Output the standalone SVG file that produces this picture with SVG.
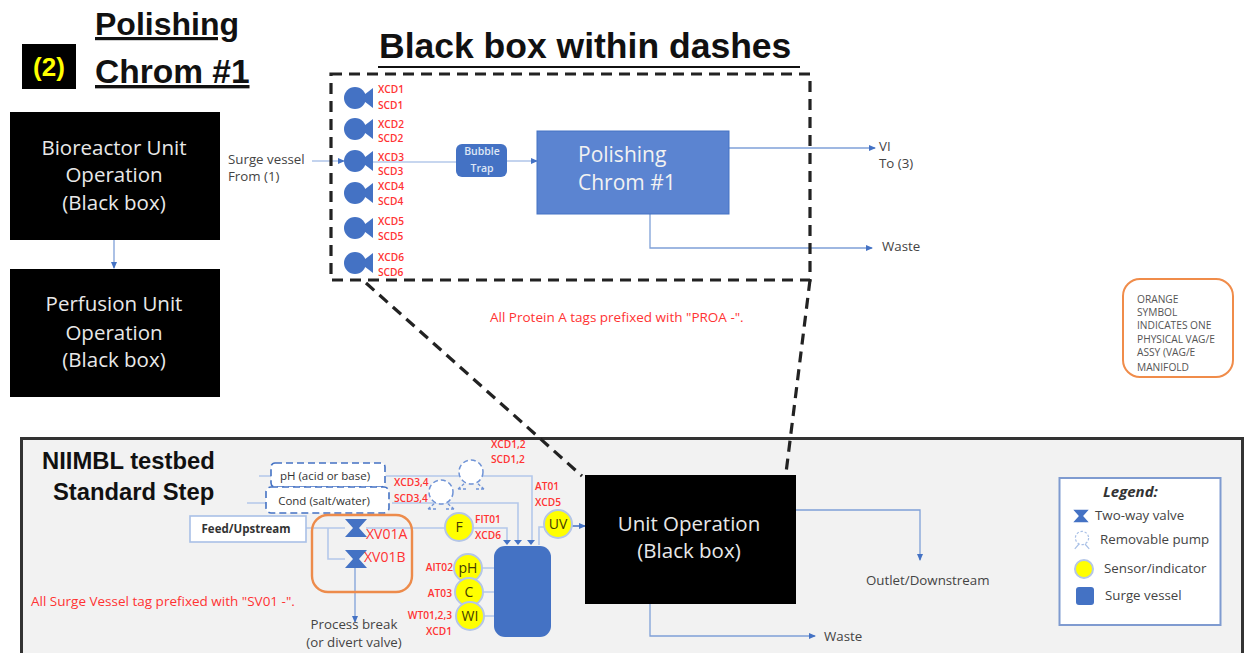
<svg xmlns="http://www.w3.org/2000/svg" width="1244" height="653" viewBox="0 0 1244 653">
<defs>
<marker id="a" markerWidth="8" markerHeight="8" refX="6" refY="3" orient="auto" markerUnits="userSpaceOnUse"><path d="M0 0L7 3L0 6z" fill="#4472c4"/></marker>
<g id="pump"><circle cx="-5" cy="0" r="11" fill="#4472c4"/><path d="M0 0L13 -10V10z" fill="#4472c4"/></g>
<g id="valve"><path d="M-11 -9H11L3 0L11 9H-11L-3 0z" fill="#4472c4"/></g>
<g id="rpump"><circle cx="0" cy="0" r="12" fill="#fff" stroke="#6f93d6" stroke-width="1.500" stroke-dasharray="5 3"/><path d="M-13 17L-6 11M-13 17H-4M13 17L6 11M13 17H4" fill="none" stroke="#6f93d6" stroke-width="1.300" stroke-dasharray="3 2"/></g>
<path id="tip" d="M-4 0H4L0 5z" fill="#4472c4"/>
</defs>
<style>
text{font-family:"Open Sans","Liberation Sans",sans-serif;fill:#333}
.w{fill:#e8e8e8;text-anchor:middle;font-size:20.500px}
.r{fill:#f33;font-size:10.200px;font-weight:600}
.re{fill:#f33;font-size:10.200px;font-weight:600;text-anchor:end}
.c{fill:none;stroke:#b4c8ea;stroke-width:1.600}
.d{fill:none;stroke:#7fa0d8;stroke-width:1.300}
.s{fill:#ff0;stroke:#b4c6e7;stroke-width:2}
.t{font-size:13.300px;fill:#444}
.dash{fill:none;stroke:#222;stroke-width:3.200;stroke-dasharray:11 7}
.h{font-family:"Liberation Sans",sans-serif;font-weight:700;fill:#111}
.m{text-anchor:middle;font-size:14px;fill:#443c00}
.red{fill:#f33;font-size:13.500px;font-weight:500}
</style>
<rect width="1244" height="653" fill="#fff"/>
<g id="title"><text class="h" x="95" y="35" font-size="32" text-decoration="underline">Polishing</text><text class="h" x="95" y="83" font-size="33.500" text-decoration="underline">Chrom #1</text><text class="h" x="379" y="58" font-size="35.500">Black box within dashes</text><path d="M378 67H800" stroke="#111" stroke-width="2"/></g>
<g id="tag2"><rect x="22" y="44" width="54" height="45" fill="#000"/><text x="49" y="76" text-anchor="middle" font-size="26" font-weight="700" style="fill:#ff0;font-family:'Liberation Sans',sans-serif">(2)</text></g>
<g id="standard-panel"><rect x="21.500" y="438.500" width="1221" height="230" fill="#f2f2f2" stroke="#333" stroke-width="3"/></g>
<g id="connectors">
<path class="c" d="M312 161H344" marker-end="url(#a)"/><path class="c" d="M370 162H456"/><path class="c" d="M507 161H537" marker-end="url(#a)"/>
<path class="d" d="M729 148H875" marker-end="url(#a)"/><path class="d" d="M650 214V248H872" marker-end="url(#a)"/>
<path class="d" d="M114 240V268" marker-end="url(#a)"/>
<path class="d" d="M796 510H920V560" marker-end="url(#a)"/><path class="d" d="M650 604V636H815" marker-end="url(#a)"/>
<path class="c" d="M259 476H272M247 503H266M386 476H532V541"/><path class="c" d="M392 503H518V541"/>
<path class="c" d="M305 528H345M366 528H507V541"/><path class="c" d="M328 528V559H345"/>
<path class="d" d="M355 568V622" marker-end="url(#a)"/>
<path class="c" d="M539 545V527H545"/>
<path class="c" d="M482 568H494M483 592H494M484 616H494"/>
<use href="#tip" x="507" y="540"/><use href="#tip" x="518" y="540"/><use href="#tip" x="531" y="540"/>
<path d="M572 526H585" stroke="#4472c4" stroke-width="1.500" marker-end="url(#a)"/>
<path class="dash" d="M366 283L582 476M810 280L786 473"/>
</g>
<g id="dash-box"><path class="dash" d="M331 74H810V280H331z"/></g>
<g id="pumps"><use href="#pump" x="360" y="98"/><use href="#pump" x="360" y="129"/><use href="#pump" x="360" y="161"/><use href="#pump" x="360" y="193"/><use href="#pump" x="360" y="228"/><use href="#pump" x="360" y="263"/>
<text class="r" x="378" y="93">XCD1</text><text class="r" x="378" y="109">SCD1</text><text class="r" x="378" y="128">XCD2</text><text class="r" x="378" y="142">SCD2</text><text class="r" x="378" y="161">XCD3</text><text class="r" x="378" y="175">SCD3</text><text class="r" x="378" y="190">XCD4</text><text class="r" x="378" y="205">SCD4</text><text class="r" x="378" y="225">XCD5</text><text class="r" x="378" y="240">SCD5</text><text class="r" x="378" y="261">XCD6</text><text class="r" x="378" y="276">SCD6</text></g>
<g id="bioreactor"><rect x="10" y="112" width="210" height="128" fill="#000"/><text class="w" x="114" y="155">Bioreactor Unit</text><text class="w" x="114" y="182">Operation</text><text class="w" x="114" y="210">(Black box)</text></g>
<g id="perfusion"><rect x="10" y="269" width="210" height="128" fill="#000"/><text class="w" x="114" y="311">Perfusion Unit</text><text class="w" x="114" y="340">Operation</text><text class="w" x="114" y="367">(Black box)</text></g>
<g id="surge-label"><text class="t" x="228" y="164">Surge vessel</text><text class="t" x="228" y="181">From (1)</text></g>
<g id="bubble-trap"><rect x="456" y="144" width="51" height="33" rx="6" fill="#4472c4"/><text x="482" y="155" text-anchor="middle" font-size="10.500" font-weight="600" style="fill:#dde6f5">Bubble</text><text x="482" y="172" text-anchor="middle" font-size="10.500" font-weight="600" style="fill:#dde6f5">Trap</text></g>
<g id="polishing"><rect x="537" y="131" width="192" height="83" fill="#5b84d1" stroke="#4472c4"/><text x="578" y="162" font-size="21" style="fill:#f2f2f2">Polishing</text><text x="578" y="190" font-size="21" style="fill:#f2f2f2">Chrom #1</text></g>
<g id="outlets"><text class="t" x="879" y="151">VI</text><text class="t" x="879" y="168">To (3)</text><text class="t" x="882" y="251">Waste</text></g>
<text class="red" x="490" y="322">All Protein A tags prefixed with "PROA  -".</text>
<g id="note"><rect x="1123" y="279" width="110" height="98" rx="17" fill="#fff" stroke="#f08c4a" stroke-width="2"/><g font-size="10.200" fill="#555"><text x="1137" y="303" style="fill:#555">ORANGE</text><text x="1137" y="316" style="fill:#555">SYMBOL</text><text x="1137" y="329" style="fill:#555">INDICATES ONE</text><text x="1137" y="343" style="fill:#555">PHYSICAL VAG/E</text><text x="1137" y="356" style="fill:#555">ASSY (VAG/E</text><text x="1137" y="371" style="fill:#555">MANIFOLD</text></g></g>
<g id="testbed-title"><text class="h" x="42" y="469" font-size="23.800">NIIMBL testbed</text><text class="h" x="53" y="500" font-size="23.800">Standard Step</text></g>
<g id="ph"><rect x="271" y="463" width="114" height="24" rx="4" fill="#fff" stroke="#4472c4" stroke-width="1.600" stroke-dasharray="7 4"/><text x="325" y="480" font-size="11.500" text-anchor="middle">pH (acid or base)</text></g>
<g id="cond"><rect x="266" y="487" width="123" height="26" rx="5" fill="#fff" stroke="#4472c4" stroke-width="1.600" stroke-dasharray="7 4"/><text x="324" y="505" font-size="11.500" text-anchor="middle">Cond (salt/water)</text></g>
<g id="feed"><rect x="190" y="516" width="116" height="26" fill="#fff" stroke="#a9c0e6" stroke-width="1.600"/><text x="246" y="533" font-size="11.500" font-weight="700" text-anchor="middle">Feed/Upstream</text></g>
<g id="orange-group"><rect x="312" y="515" width="100" height="77" rx="16" fill="none" stroke="#ed8b4b" stroke-width="2.400"/></g>
<g id="valves"><use href="#valve" x="356" y="528"/><use href="#valve" x="356" y="559"/><text x="366" y="539" font-size="14" font-weight="500" style="fill:#f33">XV01A</text><text x="364" y="562" font-size="14" font-weight="500" style="fill:#f33">XV01B</text></g>
<g id="removable-pumps"><use href="#rpump" x="471" y="472"/><use href="#rpump" x="441" y="492"/></g>
<g id="sensors">
<circle class="s" cx="459" cy="527" r="14"/><text class="m" x="459" y="532">F</text>
<circle class="s" cx="558" cy="524" r="14"/><text class="m" x="558" y="529">UV</text>
<circle class="s" cx="468" cy="568" r="14"/><text class="m" x="468" y="573">pH</text>
<circle class="s" cx="469" cy="592" r="14"/><text class="m" x="469" y="597">C</text>
<circle class="s" cx="470" cy="616" r="14"/><text class="m" x="470" y="621">WI</text>
</g>
<g id="surge-vessel"><rect x="494" y="546" width="57" height="91" rx="11" fill="#4472c4"/></g>
<g id="tags"><text class="r" x="491" y="448">XCD1,2</text><text class="r" x="491" y="463">SCD1,2</text><text class="r" x="394" y="486">XCD3,4</text><text class="r" x="394" y="502">SCD3,4</text><text class="r" x="535" y="490">AT01</text><text class="r" x="535" y="506">XCD5</text><text class="r" x="475" y="523">FIT01</text><text class="r" x="475" y="539">XCD6</text><text class="re" x="453" y="571">AIT02</text><text class="re" x="452" y="597">AT03</text><text class="re" x="452" y="619">WT01,2,3</text><text class="re" x="452" y="635">XCD1</text></g>
<g id="unit-op"><rect x="585" y="475" width="211" height="129" fill="#000"/><text class="w" x="689" y="531">Unit Operation</text><text class="w" x="689" y="558">(Black box)</text></g>
<g id="lower-labels"><text class="t" x="866" y="585">Outlet/Downstream</text><text class="t" x="824" y="641">Waste</text><text class="t" x="354" y="629" text-anchor="middle">Process break</text><text class="t" x="354" y="647" text-anchor="middle">(or divert valve)</text></g>
<text class="red" x="31" y="606">All Surge Vessel tag prefixed with "SV01 -".</text>
<g id="legend"><rect x="1059.500" y="478" width="161" height="147" fill="#fff" stroke="#7f9bd0" stroke-width="2"/><text x="1103" y="497" font-size="15" font-weight="700" font-style="italic">Legend:</text>
<use href="#valve" transform="translate(1081 516) scale(.7)"/><text class="t" x="1095" y="520">Two-way valve</text>
<g transform="translate(1082 538) scale(.6)"><circle r="11" fill="#fff" stroke="#a9c0e6" stroke-width="2" stroke-dasharray="4 3"/><path d="M-12 18L-5 10M12 18L5 10" stroke="#a9c0e6" stroke-width="2"/></g><text class="t" x="1100" y="544">Removable pump</text>
<circle class="s" cx="1084" cy="569" r="9"/><text class="t" x="1104" y="573">Sensor/indicator</text>
<rect x="1076" y="587" width="18" height="18" rx="3" fill="#4472c4"/><text class="t" x="1105" y="600">Surge vessel</text></g>
</svg>
